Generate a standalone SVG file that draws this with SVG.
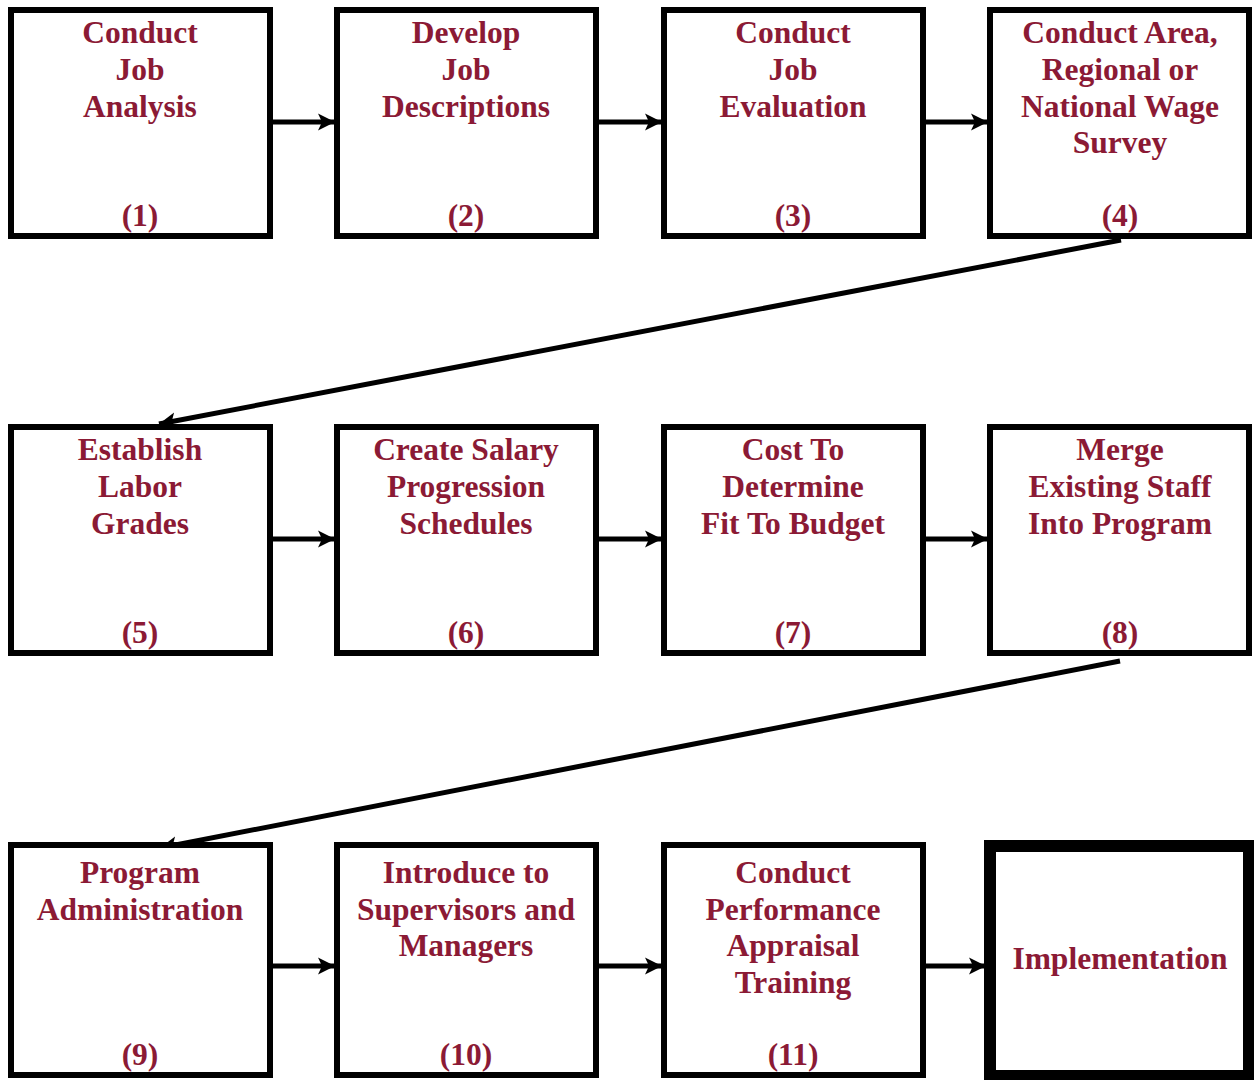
<svg xmlns="http://www.w3.org/2000/svg" width="1254" height="1080" viewBox="0 0 1254 1080">
<style>
.box{fill:#fff;stroke:#000;stroke-width:6}
.big{fill:#fff;stroke:#000;stroke-width:12}
.t{font-family:"Liberation Serif","Times New Roman",serif;font-weight:bold;font-size:31.5px;fill:#8B1A35;text-anchor:middle}
.c{stroke:#000;stroke-width:5;fill:none}
</style>
<defs>
<marker id="ah" markerUnits="userSpaceOnUse" markerWidth="20" markerHeight="20" viewBox="0 -10 20 20" refX="17" refY="0" orient="auto">
<path d="M0,-8.5 L17,0 L0,8.5 L4,0 z" fill="#000"/>
</marker>
</defs>
<rect width="1254" height="1080" fill="#fff"/>
<g id="connectors">
<line class="c" x1="272" y1="122" x2="335" y2="122" marker-end="url(#ah)"/>
<line class="c" x1="599" y1="122" x2="662" y2="122" marker-end="url(#ah)"/>
<line class="c" x1="925" y1="122" x2="988" y2="122" marker-end="url(#ah)"/>
<line class="c" x1="1121" y1="240" x2="159" y2="424" marker-end="url(#ah)"/>
<line class="c" x1="272" y1="539" x2="335" y2="539" marker-end="url(#ah)"/>
<line class="c" x1="599" y1="539" x2="662" y2="539" marker-end="url(#ah)"/>
<line class="c" x1="925" y1="539" x2="988" y2="539" marker-end="url(#ah)"/>
<line class="c" x1="1120" y1="661" x2="160" y2="848" marker-end="url(#ah)"/>
<line class="c" x1="272" y1="966" x2="335" y2="966" marker-end="url(#ah)"/>
<line class="c" x1="599" y1="966" x2="662" y2="966" marker-end="url(#ah)"/>
<line class="c" x1="925" y1="966" x2="986" y2="966" marker-end="url(#ah)"/>
</g>
<g id="n1"><rect class="box" x="11" y="10" width="259" height="226"/>
<text class="t" x="140" y="43">Conduct</text><text class="t" x="140" y="80">Job</text><text class="t" x="140" y="117">Analysis</text><text class="t" x="140" y="226">(1)</text></g>
<g id="n2"><rect class="box" x="337" y="10" width="259" height="226"/>
<text class="t" x="466" y="43">Develop</text><text class="t" x="466" y="80">Job</text><text class="t" x="466" y="117">Descriptions</text><text class="t" x="466" y="226">(2)</text></g>
<g id="n3"><rect class="box" x="664" y="10" width="259" height="226"/>
<text class="t" x="793" y="43">Conduct</text><text class="t" x="793" y="80">Job</text><text class="t" x="793" y="117">Evaluation</text><text class="t" x="793" y="226">(3)</text></g>
<g id="n4"><rect class="box" x="990" y="10" width="259" height="226"/>
<text class="t" x="1120" y="43">Conduct Area,</text><text class="t" x="1120" y="80">Regional or</text><text class="t" x="1120" y="117">National Wage</text><text class="t" x="1120" y="153">Survey</text><text class="t" x="1120" y="226">(4)</text></g>
<g id="n5"><rect class="box" x="11" y="427" width="259" height="226"/>
<text class="t" x="140" y="460">Establish</text><text class="t" x="140" y="497">Labor</text><text class="t" x="140" y="534">Grades</text><text class="t" x="140" y="643">(5)</text></g>
<g id="n6"><rect class="box" x="337" y="427" width="259" height="226"/>
<text class="t" x="466" y="460">Create Salary</text><text class="t" x="466" y="497">Progression</text><text class="t" x="466" y="534">Schedules</text><text class="t" x="466" y="643">(6)</text></g>
<g id="n7"><rect class="box" x="664" y="427" width="259" height="226"/>
<text class="t" x="793" y="460">Cost To</text><text class="t" x="793" y="497">Determine</text><text class="t" x="793" y="534">Fit To Budget</text><text class="t" x="793" y="643">(7)</text></g>
<g id="n8"><rect class="box" x="990" y="427" width="259" height="226"/>
<text class="t" x="1120" y="460">Merge</text><text class="t" x="1120" y="497">Existing Staff</text><text class="t" x="1120" y="534">Into Program</text><text class="t" x="1120" y="643">(8)</text></g>
<g id="n9"><rect class="box" x="11" y="845" width="259" height="230"/>
<text class="t" x="140" y="883">Program</text><text class="t" x="140" y="920">Administration</text><text class="t" x="140" y="1065">(9)</text></g>
<g id="n10"><rect class="box" x="337" y="845" width="259" height="230"/>
<text class="t" x="466" y="883">Introduce to</text><text class="t" x="466" y="920">Supervisors and</text><text class="t" x="466" y="956">Managers</text><text class="t" x="466" y="1065">(10)</text></g>
<g id="n11"><rect class="box" x="664" y="845" width="259" height="230"/>
<text class="t" x="793" y="883">Conduct</text><text class="t" x="793" y="920">Performance</text><text class="t" x="793" y="956">Appraisal</text><text class="t" x="793" y="993">Training</text><text class="t" x="793" y="1065">(11)</text></g>
<g id="n12"><rect class="big" x="990" y="846" width="259" height="230"/>
<text class="t" x="1120" y="969">Implementation</text></g>
</svg>
